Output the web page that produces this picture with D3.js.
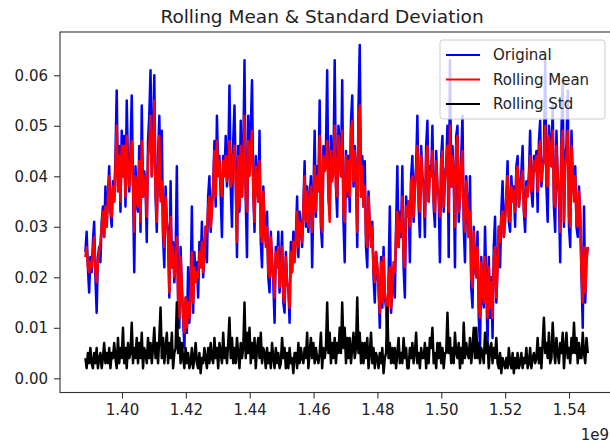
<!DOCTYPE html>
<html lang="en">
<head>
<meta charset="UTF-8">
<script src="https://d3js.org/d3.v7.min.js"></script>
<title>Rolling Mean & Standard Deviation</title>
<style>
    body { margin: 0; background: #fff; }
    text { font-family: "DejaVu Sans", sans-serif; fill: #222; }
</style>
</head>
<body>
<script>
    var width = 610, height = 444;
    var margin = {left: 60, top: 32, right: 611, bottom: 392.5}; // axes box in px

    // time range of the series (epoch seconds), evenly spaced samples
    var tStart = 1388534400, tEnd = 1545868800;

    var original = [
        .025,.029,.022,.017,.024,.021, .027,.031,.020,.013,.024,.026,
        .023,.031,.034,.028,.038,.030, .036,.042,.033,.030,.039,.035,
        .044,.057,.038,.046,.033,.049, .040,.048,.034,.055,.042,.037,
        .045,.056,.038,.021,.042,.035, .033,.046,.029,.054,.036,.041,
        .038,.027,.047,.052,.061,.040, .048,.060,.036,.029,.044,.052,
        .036,.049,.028,.022,.038,.031, .029,.016,.039,.022,.027,.019,
        .024,.042,.015,.010,.026,.018, .012,.006,.016,.009,.022,.011,
        .018,.034,.013,.025,.020,.023, .016,.027,.022,.031,.020,.025,
        .030,.023,.036,.040,.029,.034, .038,.047,.034,.052,.041,.044,
        .036,.028,.044,.040,.048,.038, .042,.058,.038,.030,.047,.054,
        .040,.024,.046,.033,.051,.036, .044,.063,.035,.024,.052,.041,
        .049,.059,.037,.029,.044,.040, .035,.049,.027,.022,.038,.030,
        .027,.033,.020,.017,.029,.023, .019,.011,.026,.022,.029,.017,
        .022,.029,.015,.013,.025,.019, .018,.011,.027,.021,.029,.024,
        .028,.036,.024,.033,.030,.026, .034,.043,.030,.038,.029,.036,
        .040,.022,.036,.049,.032,.042, .038,.055,.030,.026,.046,.042,
        .045,.061,.036,.033,.048,.040, .042,.063,.038,.032,.050,.046,
        .040,.059,.031,.023,.045,.036, .044,.033,.051,.056,.038,.046,
        .040,.026,.054,.066,.036,.044, .034,.043,.026,.022,.037,.030,
        .027,.031,.020,.015,.025,.022, .018,.010,.024,.014,.026,.016,
        .014,.008,.020,.034,.013,.018, .022,.016,.030,.042,.026,.033,
        .028,.042,.022,.016,.036,.032, .035,.023,.040,.044,.031,.038,
        .042,.052,.034,.028,.046,.040, .038,.028,.046,.051,.035,.042,
        .040,.050,.034,.030,.045,.038, .036,.023,.044,.048,.033,.040,
        .042,.050,.024,.063,.038,.046, .040,.022,.048,.050,.031,.036,
        .044,.052,.030,.023,.040,.034, .028,.040,.018,.014,.030,.022,
        .020,.029,.012,.006,.024,.016, .014,.030,.019,.006,.024,.012,
        .020,.008,.026,.032,.015,.022, .030,.022,.033,.039,.028,.032,
        .036,.043,.031,.029,.040,.035, .038,.030,.042,.044,.034,.037,
        .041,.046,.033,.029,.039,.036, .040,.049,.037,.034,.044,.042,
        .045,.033,.047,.051,.038,.042, .044,.063,.038,.031,.050,.046,
        .042,.054,.034,.029,.049,.040, .036,.023,.049,.059,.030,.044,
        .046,.057,.030,.026,.049,.040, .036,.042,.030,.028,.038,.032,
        .020,.010,.034,.015,.024,.026
    ];

    var rollingMean = [
        .024,.026,.022,.021,.023,.022, .025,.028,.021,.019,.023,.025,
        .027,.030,.033,.028,.034,.030, .036,.040,.033,.032,.038,.035,
        .042,.050,.037,.044,.035,.046, .040,.046,.036,.048,.041,.038,
        .043,.047,.038,.029,.040,.035, .034,.043,.031,.047,.036,.040,
        .038,.032,.044,.046,.052,.040, .045,.055,.037,.031,.042,.048,
        .035,.039,.029,.026,.036,.031, .028,.017,.032,.022,.026,.020,
        .022,.028,.016,.012,.024,.018, .012,.009,.016,.010,.015,.012,
        .017,.025,.015,.022,.019,.021, .020,.025,.022,.027,.021,.024,
        .030,.029,.034,.036,.030,.033, .038,.045,.036,.047,.040,.043,
        .038,.036,.043,.040,.044,.039, .041,.047,.038,.039,.044,.046,
        .039,.027,.044,.034,.046,.036, .042,.052,.036,.033,.047,.040,
        .045,.049,.037,.031,.042,.039, .035,.043,.029,.027,.037,.031,
        .026,.030,.021,.020,.028,.023, .020,.016,.025,.022,.026,.018,
        .021,.026,.016,.015,.024,.019, .018,.014,.025,.021,.027,.023,
        .028,.033,.026,.031,.030,.027, .034,.040,.031,.037,.030,.035,
        .038,.029,.035,.042,.033,.040, .037,.048,.031,.029,.044,.041,
        .042,.047,.036,.031,.045,.039, .041,.050,.038,.036,.048,.044,
        .040,.049,.033,.031,.044,.037, .043,.036,.049,.051,.039,.045,
        .040,.029,.050,.054,.036,.042, .034,.038,.028,.026,.036,.030,
        .026,.030,.021,.019,.025,.022, .018,.013,.023,.015,.024,.017,
        .015,.012,.019,.022,.014,.018, .023,.021,.029,.033,.026,.031,
        .029,.036,.024,.022,.034,.032, .035,.030,.039,.040,.032,.037,
        .041,.046,.035,.033,.044,.039, .038,.032,.044,.046,.035,.041,
        .040,.045,.035,.033,.043,.038, .036,.032,.043,.045,.034,.039,
        .042,.046,.033,.050,.038,.044, .040,.030,.046,.048,.033,.036,
        .042,.045,.032,.029,.039,.034, .028,.033,.020,.018,.029,.023,
        .020,.026,.014,.012,.023,.017, .015,.024,.018,.012,.022,.014,
        .019,.012,.024,.026,.016,.022, .030,.027,.032,.033,.028,.031,
        .036,.040,.032,.031,.038,.035, .037,.033,.041,.042,.034,.037,
        .039,.041,.033,.032,.038,.036, .040,.044,.037,.038,.043,.041,
        .044,.037,.045,.047,.039,.042, .043,.050,.039,.038,.048,.045,
        .042,.049,.035,.034,.046,.040, .037,.029,.046,.049,.031,.042,
        .044,.049,.032,.030,.046,.040, .035,.040,.031,.030,.037,.032,
        .021,.015,.026,.017,.023,.026
    ];

    var rollingStd = [
        .004,.002,.005,.003,.006,.003, .002,.005,.003,.006,.002,.004,
        .005,.002,.004,.007,.003,.005, .003,.006,.002,.005,.004,.007,
        .004,.002,.008,.003,.006,.004, .010,.003,.006,.002,.007,.004,
        .005,.011,.003,.006,.004,.008, .003,.007,.004,.009,.002,.006,
        .005,.003,.008,.004,.007,.003, .006,.010,.004,.007,.003,.008,
        .014,.004,.008,.003,.006,.009, .003,.007,.004,.009,.002,.005,
        .006,.015,.005,.008,.003,.007, .004,.002,.006,.003,.005,.002,
        .003,.006,.002,.004,.007,.003, .002,.005,.001,.004,.003,.006,
        .004,.002,.006,.003,.007,.004, .003,.008,.004,.006,.002,.007,
        .005,.003,.009,.004,.006,.003, .007,.012,.004,.008,.003,.006,
        .003,.008,.005,.002,.007,.004, .006,.015,.004,.009,.005,.010,
        .003,.007,.004,.008,.002,.006, .008,.004,.009,.003,.006,.005,
        .002,.006,.003,.005,.002,.007, .004,.002,.006,.003,.005,.002,
        .003,.008,.004,.006,.002,.005, .002,.006,.003,.004,.001,.005,
        .005,.002,.007,.003,.006,.004, .003,.006,.004,.009,.002,.005,
        .008,.004,.007,.003,.006,.004, .003,.005,.009,.002,.006,.004,
        .006,.015,.005,.009,.003,.007, .004,.008,.003,.007,.005,.010,
        .005,.015,.006,.010,.003,.008, .004,.008,.003,.006,.009,.004,
        .006,.016,.005,.009,.003,.007, .003,.007,.004,.008,.002,.005,
        .009,.003,.006,.002,.005,.004, .002,.005,.003,.006,.001,.004,
        .005,.014,.004,.007,.003,.006, .003,.006,.002,.005,.008,.003,
        .005,.003,.008,.004,.006,.002, .002,.006,.004,.007,.003,.005,
        .009,.003,.005,.002,.006,.004, .004,.007,.002,.006,.003,.008,
        .006,.010,.003,.005,.002,.007, .004,.007,.003,.006,.002,.005,
        .005,.013,.005,.008,.003,.006, .003,.009,.005,.004,.007,.002,
        .006,.003,.011,.004,.007,.005, .004,.008,.003,.006,.010,.004,
        .010,.004,.007,.003,.006,.005, .003,.009,.005,.007,.002,.006,
        .007,.003,.006,.004,.008,.003, .002,.005,.001,.004,.003,.002,
        .004,.002,.006,.003,.002,.005, .001,.004,.002,.005,.002,.003,
        .005,.002,.004,.003,.006,.002, .003,.006,.002,.004,.005,.003,
        .004,.008,.003,.006,.002,.007, .012,.005,.007,.004,.009,.003,
        .004,.011,.006,.003,.008,.005, .003,.007,.005,.009,.002,.006,
        .009,.004,.006,.003,.008,.005, .011,.005,.008,.003,.007,.004,
        .004,.009,.005,.003,.008,.005
    ];

    var xTicks = [1.40e9, 1.42e9, 1.44e9, 1.46e9, 1.48e9, 1.50e9, 1.52e9, 1.54e9];
    var yTicks = [0.00, 0.01, 0.02, 0.03, 0.04, 0.05, 0.06];

    var series = [
        {name: "Original", values: original, color: "#0000ff"},
        {name: "Rolling Mean", values: rollingMean, color: "#ff0000"},
        {name: "Rolling Std", values: rollingStd, color: "#000000"}
    ];

    var n = original.length;
    var times = d3.range(n).map(function (i) { return tStart + i * (tEnd - tStart) / (n - 1); });

    var x = d3.scaleLinear()
        .domain([1.380583e9, 1.553146e9])
        .range([margin.left, margin.right]);

    var y = d3.scaleLinear()
        .domain([-0.00281, 0.06857])
        .range([margin.bottom, margin.top]);

    var svg = d3.select("body").append("svg")
        .attr("width", width)
        .attr("height", height);

    svg.append("defs").append("clipPath").attr("id", "plotclip")
        .append("rect")
        .attr("x", margin.left).attr("y", margin.top)
        .attr("width", margin.right - margin.left)
        .attr("height", margin.bottom - margin.top);

    var line = d3.line()
        .x(function (d, i) { return x(times[i]); })
        .y(function (d) { return y(d); });

    var plot = svg.append("g").attr("clip-path", "url(#plotclip)");
    series.forEach(function (s) {
        plot.append("path")
            .attr("d", line(s.values))
            .attr("fill", "none")
            .attr("stroke", s.color)
            .attr("stroke-width", 2.5)
            .attr("stroke-linejoin", "round");
    });

    // axes
    var xAxis = d3.axisBottom(x).tickValues(xTicks)
        .tickFormat(function (d) { return d3.format(".2f")(d / 1e9); })
        .tickSize(6).tickPadding(6);
    var yAxis = d3.axisLeft(y).tickValues(yTicks)
        .tickFormat(d3.format(".2f"))
        .tickSize(6).tickPadding(6);

    var gx = svg.append("g")
        .attr("transform", "translate(0," + margin.bottom + ")")
        .call(xAxis);
    var gy = svg.append("g")
        .attr("transform", "translate(" + margin.left + ",0)")
        .call(yAxis);
    [gx, gy].forEach(function (g) {
        g.select(".domain").remove();
        g.selectAll(".tick line").attr("stroke", "#333").attr("stroke-width", 1.1);
        g.selectAll(".tick text").style("font-size", "15px").attr("fill", "#222");
    });

    // axes frame
    svg.append("rect")
        .attr("x", margin.left).attr("y", margin.top)
        .attr("width", margin.right - margin.left)
        .attr("height", margin.bottom - margin.top)
        .attr("fill", "none")
        .attr("stroke", "#333")
        .attr("stroke-width", 1.1);

    // offset label
    svg.append("text")
        .attr("x", 609).attr("y", 440)
        .attr("text-anchor", "end")
        .style("font-size", "15px")
        .text("1e9");

    // title
    svg.append("text")
        .attr("x", 322)
        .attr("y", 23)
        .attr("text-anchor", "middle")
        .style("font-size", "18.5px")
        .text("Rolling Mean & Standard Deviation");

    // legend
    var legend = svg.append("g").attr("transform", "translate(440,40)");
    legend.append("rect")
        .attr("width", 165).attr("height", 79)
        .attr("rx", 3)
        .attr("fill", "#fff").attr("fill-opacity", 0.8)
        .attr("stroke", "#ccc");
    series.forEach(function (s, i) {
        var ly = 15 + i * 24.5;
        legend.append("line")
            .attr("x1", 6).attr("x2", 40)
            .attr("y1", ly).attr("y2", ly)
            .attr("stroke", s.color).attr("stroke-width", 2);
        legend.append("text")
            .attr("x", 53).attr("y", ly)
            .attr("dy", "0.35em")
            .style("font-size", "15px")
            .text(s.name);
    });
</script>
</body>
</html>
